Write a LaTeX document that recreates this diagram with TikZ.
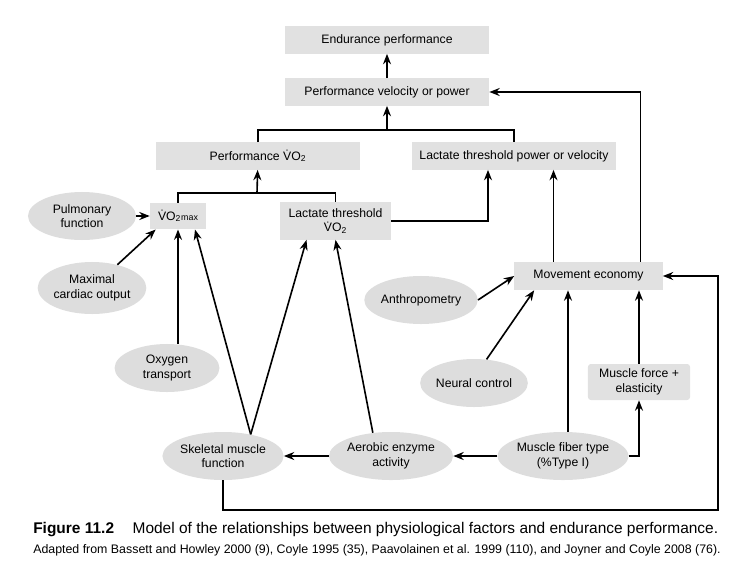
\documentclass[tikz,border=0pt]{standalone}
\usepackage{fontspec}
\setmainfont{Liberation Sans}
\definecolor{blockgray}{RGB}{225,225,225}
\definecolor{ovalgray}{RGB}{221,221,221}
\usetikzlibrary{positioning,arrows.meta,calc,shapes.geometric}
\newcommand{\VOtwo}{\.{V}O\textsubscript{2}}
\tikzset{
  box/.style  = {rectangle, fill = blockgray, inner sep = 2pt,
                 minimum width = 5.1cm, minimum height = 0.68cm,
                 align = center, font = \fontsize{8.7}{10.4}\selectfont},
  side/.style = {box, minimum width = 2.55cm, minimum height = 0.9cm,
                 rounded corners = 2pt},
  oval/.style = {ellipse, fill = ovalgray, inner sep = 0pt,
                 minimum width = 2.7cm, minimum height = 1.2cm,
                 align = center, font = \fontsize{8.7}{10.4}\selectfont},
  arr/.style  = {-{Stealth[length=2.6mm,width=2mm]}, line width=1.15pt},
  lin/.style  = {line width=1.15pt}
}

\begin{document}
\begin{tikzpicture}[
      x=0.025cm, y=-0.025cm,                 % 1 unit = 1 px of the figure
    ]
    \useasboundingbox (0,0) rectangle (740,565);

    % top row
    \node[box] (endu) at (387,40)  {Endurance performance};
    \node[box] (vel)  at (387,92)  {Performance velocity or power};
    \node[box] (pvo2) at (258,156) {Performance \VOtwo};
    \node[box] (ltpv) at (514,156) {Lactate threshold power or velocity};

    \node[box,minimum width=1.4cm,minimum height=0.66cm] (vmax) at (178,216)
      {\VOtwo{\fontsize{6.3}{7}\selectfont max}};
    \node[box,minimum width=2.78cm,minimum height=0.93cm] (ltvo2) at (335.5,221)
      {Lactate threshold\\\VOtwo};
    \node[box,minimum width=3.7cm,minimum height=0.7cm] (econ) at (588.5,276)
      {Movement economy};
    \node[side] (force) at (639,382) {Muscle force +\\elasticity};

    % ellipses
    \node[oval] (pulm) at (82,216)  {Pulmonary\\function};
    \node[oval,minimum width=2.5cm,minimum height=1.3cm] (card) at (92,288)
      {Maximal\\cardiac output};
    \node[oval,minimum width=2.62cm] (oxy)  at (167,368) {Oxygen\\transport};
    \node[oval] (anth) at (421,300) {Anthropometry};
    \node[oval,minimum width=2.65cm] (neur) at (474,383) {Neural control};
    \node[oval] (skel) at (223,456) {Skeletal muscle\\function};
    \node[oval,minimum width=2.65cm] (aer)  at (391,456) {Aerobic enzyme\\activity};
    \node[oval] (fib)  at (563,456) {Muscle fiber type\\(\%Type I)};

    % connectors top
    \coordinate (j1) at (387,130);
    \coordinate (j2) at (257,193);
    \draw[arr] (vel) -- (endu);
    \draw[lin] (pvo2.north) |- (j1) -| (ltpv.north);
    \draw[arr] (j1) -- (vel);
    \draw[lin] (vmax.north) |- (j2) -| (ltvo2.north);
    \draw[arr] (j2) -- (pvo2);
    \draw[arr] (ltvo2.east) -| ($(ltpv.south)+(-26,0)$);

    % into VO2max and LT VO2
    \draw[arr] (pulm) -- (vmax);
    \draw[arr] (card) -- ($(vmax.south west)+(6,0)$);
    \draw[arr] (oxy.north -| vmax.south) -- (vmax.south);
    \draw[arr] (skel.38) -- ($(vmax.south)+(17,0)$);
    \draw[arr] (skel.38) -- ($(ltvo2.south)+(-29,0)$);
    \draw[arr] (aer.128) -- (ltvo2.south);

    % bottom row
    \draw[arr] (aer) -- (skel);
    \draw[arr] (fib) -- (aer);
    \coordinate (f1) at ($(fib.north)+(5,0)$);
    \draw[arr] (f1) -- (f1 |- econ.south);
    \draw[arr] (fib.east) -| (force.south);
    \draw[arr] (force) -- (force |- econ.south);

    % movement economy
    \draw[arr] (anth.east) -- (econ.west);
    \draw[arr] (neur.62) -- ($(econ.south west)+(20,0)$);
    \coordinate (e1) at ($(econ.north)+(-35,0)$);
    \draw[arr] (e1) -- (e1 |- ltpv.south);
    \draw[arr] ($(econ.north)+(52,0)$) |- (vel.east);
    \coordinate (c1) at (718,510);
    \draw[arr] (skel.south) |- (c1) |- (econ.east);

    % caption
    \node[anchor=west,inner sep=0pt,font=\fontsize{11}{13}\selectfont] (cap1) at (33,530)
      {\textbf{Figure 11.2}\hspace{1.2em}Model of the relationships between physiological factors and endurance performance.};
    \node[anchor=west,inner sep=0pt,font=\fontsize{8.8}{10}\selectfont] (cap2) at (33,550)
      {Adapted from Bassett and Howley 2000 (9), Coyle 1995 (35), Paavolainen et al. 1999 (110), and Joyner and Coyle 2008 (76).};
  \end{tikzpicture}
\end{document}
